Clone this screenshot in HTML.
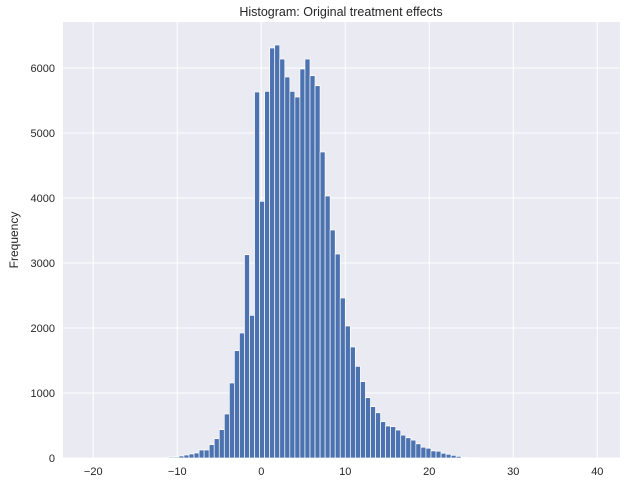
<!DOCTYPE html>
<html><head><meta charset="utf-8"><style>
body{margin:0;background:#fff;font-family:"Liberation Sans","DejaVu Sans",sans-serif}
svg text{font-family:"Liberation Sans","DejaVu Sans",sans-serif;fill:#262626}
</style></head><body>
<svg id="chart" width="626" height="484" xmlns="http://www.w3.org/2000/svg">
<text x="341" y="16" text-anchor="middle" font-size="12.5">Histogram: Original treatment effects</text>
<text transform="translate(18,240) rotate(-90)" text-anchor="middle" font-size="12">Frequency</text>
</svg>
<script>
const binStart = -20, binWidth = 0.6;
const counts = [0,0,0,0,0,0,0,0,0,0,0,0,0,0,5,15,15,31,46,62,77,123,123,205,297,436,677,1154,1651,1923,3128,2195,5631,3949,5641,6308,6354,6138,5862,5641,5554,5985,6138,5882,5728,4708,4031,3508,3138,2462,2031,1708,1410,1175,928,790,696,560,492,482,430,352,311,275,218,166,150,109,104,73,57,41,26,10,5,5,3,1,1,0,0,0,0,0,0,0,0,0,0,0,0,0,0,0,0,0,0,0,0,1];
const xTicks = [-20,-10,0,10,20,30,40];
const yTicks = [0,1000,2000,3000,4000,5000,6000];
const L=63,R=620,T=22,B=458;
const xMin=-23.6,xMax=42.7,yMax=6708;
const sx=v=>L+(v-xMin)/(xMax-xMin)*(R-L);
const sy=v=>B-v/yMax*(B-T);
const svg=document.getElementById('chart');
const NS='http://www.w3.org/2000/svg';
function mk(t,a){const e=document.createElementNS(NS,t);for(const k in a)e.setAttribute(k,a[k]);svg.appendChild(e);return e;}
const bg=mk('rect',{x:L,y:T,width:R-L,height:B-T,fill:'#eaeaf2'});


xTicks.forEach(v=>{
  const g=mk('line',{x1:sx(v),x2:sx(v),y1:T,y2:B,stroke:'#fff','stroke-width':1});
  
  
  const t=mk('text',{x:sx(v),y:B+17,'text-anchor':'middle','font-size':11});
  t.textContent=v<0?'\u2212'+(-v):v;
  
  
});
yTicks.forEach(v=>{
  const g=mk('line',{x1:L,x2:R,y1:sy(v),y2:sy(v),stroke:'#fff','stroke-width':1});
  
  
  const t=mk('text',{x:L-8,y:sy(v)+4,'text-anchor':'end','font-size':11});
  t.textContent=v;
  
  
});
counts.forEach((c,i)=>{
  if(c<=0)return;
  const x0=sx(binStart+i*binWidth),x1=sx(binStart+(i+1)*binWidth);
  const r=mk('rect',{x:x0,y:sy(c),width:x1-x0,height:B-sy(c),fill:'#4c72b0',stroke:'#fff','stroke-width':0.7});
  
  
});
</script>
</body></html>
